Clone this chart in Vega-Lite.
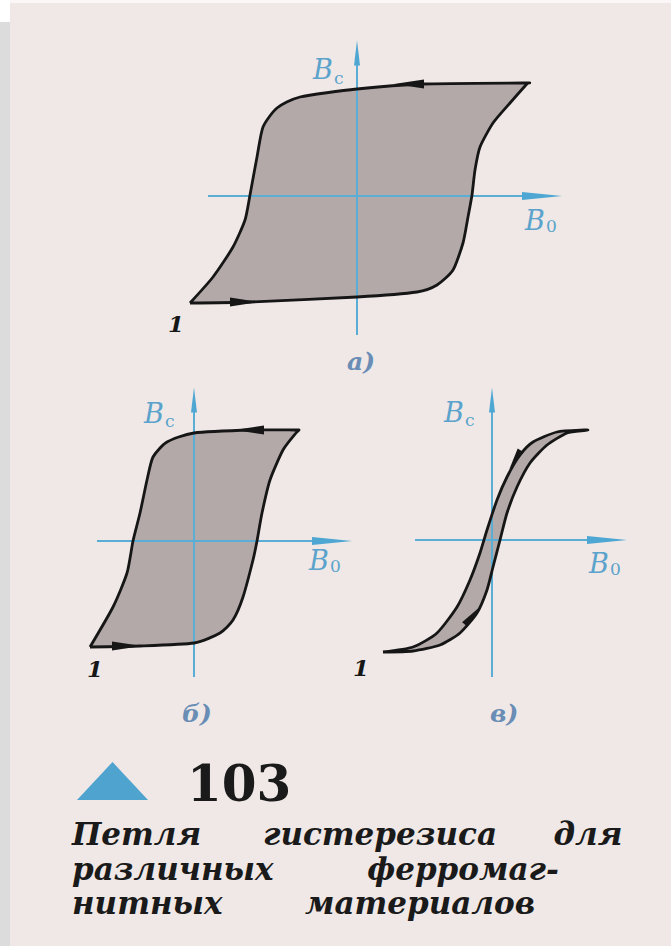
{
  "$schema": "https://vega.github.io/schema/vega-lite/v6.json",
  "width": 671,
  "height": 946,
  "padding": 0,
  "autosize": {"type": "fit", "contains": "padding"},
  "background": "#efe8e6",
  "config": {"view": {"stroke": null}},
  "datasets": {
    "loops": [
      {"panel": "a", "i": 0, "x": 190, "y": 303},
      {"panel": "a", "i": 1, "x": 250, "y": 302},
      {"panel": "a", "i": 2, "x": 357, "y": 297},
      {"panel": "a", "i": 3, "x": 417, "y": 292},
      {"panel": "a", "i": 4, "x": 437, "y": 285},
      {"panel": "a", "i": 5, "x": 453, "y": 270},
      {"panel": "a", "i": 6, "x": 463, "y": 243},
      {"panel": "a", "i": 7, "x": 468, "y": 217},
      {"panel": "a", "i": 8, "x": 472, "y": 195},
      {"panel": "a", "i": 9, "x": 475, "y": 170},
      {"panel": "a", "i": 10, "x": 480, "y": 147},
      {"panel": "a", "i": 11, "x": 493, "y": 123},
      {"panel": "a", "i": 12, "x": 510, "y": 103},
      {"panel": "a", "i": 13, "x": 525, "y": 86},
      {"panel": "a", "i": 14, "x": 528, "y": 83},
      {"panel": "a", "i": 15, "x": 523, "y": 83},
      {"panel": "a", "i": 16, "x": 423, "y": 84},
      {"panel": "a", "i": 17, "x": 357, "y": 89},
      {"panel": "a", "i": 18, "x": 300, "y": 97},
      {"panel": "a", "i": 19, "x": 277, "y": 108},
      {"panel": "a", "i": 20, "x": 263, "y": 127},
      {"panel": "a", "i": 21, "x": 257, "y": 157},
      {"panel": "a", "i": 22, "x": 250, "y": 195},
      {"panel": "a", "i": 23, "x": 245, "y": 220},
      {"panel": "a", "i": 24, "x": 233, "y": 247},
      {"panel": "a", "i": 25, "x": 213, "y": 277},
      {"panel": "a", "i": 26, "x": 190, "y": 303},
      {"panel": "b", "i": 0, "x": 90, "y": 647},
      {"panel": "b", "i": 1, "x": 140, "y": 646},
      {"panel": "b", "i": 2, "x": 194, "y": 643},
      {"panel": "b", "i": 3, "x": 220, "y": 633},
      {"panel": "b", "i": 4, "x": 233, "y": 620},
      {"panel": "b", "i": 5, "x": 243, "y": 597},
      {"panel": "b", "i": 6, "x": 253, "y": 560},
      {"panel": "b", "i": 7, "x": 257, "y": 541},
      {"panel": "b", "i": 8, "x": 262, "y": 513},
      {"panel": "b", "i": 9, "x": 270, "y": 480},
      {"panel": "b", "i": 10, "x": 283, "y": 450},
      {"panel": "b", "i": 11, "x": 296, "y": 433},
      {"panel": "b", "i": 12, "x": 299, "y": 430},
      {"panel": "b", "i": 13, "x": 295, "y": 430},
      {"panel": "b", "i": 14, "x": 253, "y": 430},
      {"panel": "b", "i": 15, "x": 194, "y": 433},
      {"panel": "b", "i": 16, "x": 167, "y": 442},
      {"panel": "b", "i": 17, "x": 153, "y": 457},
      {"panel": "b", "i": 18, "x": 147, "y": 480},
      {"panel": "b", "i": 19, "x": 140, "y": 513},
      {"panel": "b", "i": 20, "x": 133, "y": 541},
      {"panel": "b", "i": 21, "x": 127, "y": 573},
      {"panel": "b", "i": 22, "x": 113, "y": 607},
      {"panel": "b", "i": 23, "x": 90, "y": 647},
      {"panel": "c", "i": 0, "x": 383, "y": 652},
      {"panel": "c", "i": 1, "x": 413, "y": 651},
      {"panel": "c", "i": 2, "x": 440, "y": 645},
      {"panel": "c", "i": 3, "x": 460, "y": 633},
      {"panel": "c", "i": 4, "x": 477, "y": 613},
      {"panel": "c", "i": 5, "x": 487, "y": 590},
      {"panel": "c", "i": 6, "x": 493, "y": 567},
      {"panel": "c", "i": 7, "x": 500, "y": 540},
      {"panel": "c", "i": 8, "x": 507, "y": 513},
      {"panel": "c", "i": 9, "x": 517, "y": 487},
      {"panel": "c", "i": 10, "x": 530, "y": 463},
      {"panel": "c", "i": 11, "x": 547, "y": 445},
      {"panel": "c", "i": 12, "x": 567, "y": 433},
      {"panel": "c", "i": 13, "x": 584, "y": 430.5},
      {"panel": "c", "i": 14, "x": 588, "y": 430},
      {"panel": "c", "i": 15, "x": 584, "y": 430},
      {"panel": "c", "i": 16, "x": 557, "y": 432},
      {"panel": "c", "i": 17, "x": 533, "y": 442},
      {"panel": "c", "i": 18, "x": 520, "y": 455},
      {"panel": "c", "i": 19, "x": 507, "y": 477},
      {"panel": "c", "i": 20, "x": 497, "y": 500},
      {"panel": "c", "i": 21, "x": 487, "y": 530},
      {"panel": "c", "i": 22, "x": 480, "y": 553},
      {"panel": "c", "i": 23, "x": 470, "y": 580},
      {"panel": "c", "i": 24, "x": 457, "y": 607},
      {"panel": "c", "i": 25, "x": 437, "y": 633},
      {"panel": "c", "i": 26, "x": 413, "y": 647},
      {"panel": "c", "i": 27, "x": 383, "y": 652}
    ]
  },
  "encoding": {
    "x": {"type": "quantitative", "scale": {"domain": [0, 671], "nice": false, "zero": false}, "axis": null},
    "y": {"type": "quantitative", "scale": {"domain": [0, 946], "nice": false, "zero": false, "reverse": true}, "axis": null}
  },
  "layer": [
    {
      "data": {"values": [
        {"x": 0, "x2": 10, "y": 22, "y2": 946, "k": "strip"},
        {"x": 0, "x2": 10, "y": 0, "y2": 22, "k": "corner"},
        {"x": 10, "x2": 671, "y": 0, "y2": 3, "k": "top"}
      ]},
      "mark": {"type": "rect"},
      "encoding": {
        "x": {"field": "x", "type": "quantitative"},
        "x2": {"field": "x2"},
        "y": {"field": "y", "type": "quantitative"},
        "y2": {"field": "y2"},
        "color": {"field": "k", "type": "nominal", "scale": {"domain": ["strip", "corner", "top"], "range": ["#dcdcdc", "#ffffff", "#faf7f6"]}, "legend": null}
      }
    },
    {
      "data": {"name": "loops"},
      "mark": {"type": "line", "fill": "#b3a9a8", "strokeWidth": 0, "interpolate": "cardinal", "tension": 0.35},
      "encoding": {
        "x": {"field": "x", "type": "quantitative"},
        "y": {"field": "y", "type": "quantitative"},
        "detail": {"field": "panel"},
        "order": {"field": "i", "type": "quantitative"}
      }
    },
    {
      "data": {"values": [
        {"x": 357, "x2": 357, "y": 55, "y2": 335},
        {"x": 208, "x2": 540, "y": 196, "y2": 196},
        {"x": 194, "x2": 194, "y": 400, "y2": 677},
        {"x": 97, "x2": 330, "y": 541, "y2": 541},
        {"x": 492, "x2": 492, "y": 400, "y2": 677},
        {"x": 415, "x2": 605, "y": 540, "y2": 540}
      ]},
      "mark": {"type": "rule", "color": "#5aaed6", "strokeWidth": 2},
      "encoding": {
        "x": {"field": "x", "type": "quantitative"},
        "x2": {"field": "x2"},
        "y": {"field": "y", "type": "quantitative"},
        "y2": {"field": "y2"}
      }
    },
    {
      "data": {"values": [{"x": 357, "y": 53}, {"x": 194, "y": 400}, {"x": 492, "y": 400}]},
      "mark": {"type": "point", "shape": "M0,-1L0.24,1L-0.24,1Z", "size": 625, "filled": true, "color": "#4ea6d2", "opacity": 1},
      "encoding": {
        "x": {"field": "x", "type": "quantitative"},
        "y": {"field": "y", "type": "quantitative"}
      }
    },
    {
      "data": {"values": [{"x": 542, "y": 196}, {"x": 332, "y": 541}, {"x": 607, "y": 540}]},
      "mark": {"type": "point", "shape": "M1,0L-1,-0.2L-1,0.2Z", "size": 1600, "filled": true, "color": "#4ea6d2", "opacity": 1},
      "encoding": {
        "x": {"field": "x", "type": "quantitative"},
        "y": {"field": "y", "type": "quantitative"}
      }
    },
    {
      "data": {"name": "loops"},
      "mark": {"type": "line", "color": "#161616", "strokeWidth": 2.8, "interpolate": "cardinal", "tension": 0.35},
      "encoding": {
        "x": {"field": "x", "type": "quantitative"},
        "y": {"field": "y", "type": "quantitative"},
        "detail": {"field": "panel"},
        "order": {"field": "i", "type": "quantitative"}
      }
    },
    {
      "data": {"values": [{"x": 409, "y": 84}, {"x": 249, "y": 430}]},
      "mark": {"type": "point", "shape": "M-1,0L1,-0.3L1,0.3Z", "size": 900, "filled": true, "color": "#161616", "opacity": 1},
      "encoding": {
        "x": {"field": "x", "type": "quantitative"},
        "y": {"field": "y", "type": "quantitative"}
      }
    },
    {
      "data": {"values": [{"x": 245, "y": 302}, {"x": 127, "y": 646}]},
      "mark": {"type": "point", "shape": "M1,0L-1,-0.3L-1,0.3Z", "size": 900, "filled": true, "color": "#161616", "opacity": 1},
      "encoding": {
        "x": {"field": "x", "type": "quantitative"},
        "y": {"field": "y", "type": "quantitative"}
      }
    },
    {
      "data": {"values": [{"x": 515, "y": 460}]},
      "mark": {"type": "point", "shape": "M0,-1L0.32,1L-0.32,1Z", "size": 500, "angle": 211, "filled": true, "color": "#161616", "opacity": 1},
      "encoding": {
        "x": {"field": "x", "type": "quantitative"},
        "y": {"field": "y", "type": "quantitative"}
      }
    },
    {
      "data": {"values": [{"x": 472, "y": 616}]},
      "mark": {"type": "point", "shape": "M0,-1L0.32,1L-0.32,1Z", "size": 500, "angle": 40, "filled": true, "color": "#161616", "opacity": 1},
      "encoding": {
        "x": {"field": "x", "type": "quantitative"},
        "y": {"field": "y", "type": "quantitative"}
      }
    },
    {
      "data": {"values": [
        {"x": 313, "y": 79, "t": "B"},
        {"x": 525, "y": 230, "t": "B"},
        {"x": 144, "y": 423, "t": "B"},
        {"x": 309, "y": 570, "t": "B"},
        {"x": 444, "y": 422, "t": "B"},
        {"x": 589, "y": 573, "t": "B"}
      ]},
      "mark": {"type": "text", "font": "DejaVu Serif", "fontStyle": "italic", "fontSize": 27, "align": "left", "baseline": "alphabetic", "color": "#5ba3cc"},
      "encoding": {
        "x": {"field": "x", "type": "quantitative"},
        "y": {"field": "y", "type": "quantitative"},
        "text": {"field": "t"}
      }
    },
    {
      "data": {"values": [
        {"x": 334, "y": 84, "t": "c"},
        {"x": 546, "y": 232, "t": "0"},
        {"x": 165, "y": 427, "t": "c"},
        {"x": 330, "y": 572, "t": "0"},
        {"x": 465, "y": 426, "t": "c"},
        {"x": 610, "y": 575, "t": "0"}
      ]},
      "mark": {"type": "text", "font": "DejaVu Serif", "fontSize": 17, "align": "left", "baseline": "alphabetic", "color": "#5ba3cc"},
      "encoding": {
        "x": {"field": "x", "type": "quantitative"},
        "y": {"field": "y", "type": "quantitative"},
        "text": {"field": "t"}
      }
    },
    {
      "data": {"values": [
        {"x": 168, "y": 332, "t": "1"},
        {"x": 87, "y": 677, "t": "1"},
        {"x": 353, "y": 676, "t": "1"}
      ]},
      "mark": {"type": "text", "font": "DejaVu Serif", "fontStyle": "italic", "fontWeight": "bold", "fontSize": 23, "align": "left", "baseline": "alphabetic", "color": "#161616"},
      "encoding": {
        "x": {"field": "x", "type": "quantitative"},
        "y": {"field": "y", "type": "quantitative"},
        "text": {"field": "t"}
      }
    },
    {
      "data": {"values": [
        {"x": 347, "y": 370, "t": "а)"},
        {"x": 182, "y": 722, "t": "б)"},
        {"x": 490, "y": 722, "t": "в)"}
      ]},
      "mark": {"type": "text", "font": "DejaVu Serif", "fontStyle": "italic", "fontWeight": "bold", "fontSize": 25, "align": "left", "baseline": "alphabetic", "color": "#6a8db5"},
      "encoding": {
        "x": {"field": "x", "type": "quantitative"},
        "y": {"field": "y", "type": "quantitative"},
        "text": {"field": "t"}
      }
    },
    {
      "data": {"values": [{"x": 112.5, "y": 781}]},
      "mark": {"type": "point", "shape": "M0,-0.535L1,0.535L-1,0.535Z", "size": 5041, "filled": true, "color": "#4fa3cf", "opacity": 1},
      "encoding": {
        "x": {"field": "x", "type": "quantitative"},
        "y": {"field": "y", "type": "quantitative"}
      }
    },
    {
      "data": {"values": [{"x": 187, "y": 801, "t": "103"}]},
      "mark": {"type": "text", "font": "DejaVu Serif", "fontWeight": "bold", "fontSize": 50, "align": "left", "baseline": "alphabetic", "color": "#1a1a1a"},
      "encoding": {
        "x": {"field": "x", "type": "quantitative"},
        "y": {"field": "y", "type": "quantitative"},
        "text": {"field": "t"}
      }
    },
    {
      "data": {"values": [
        {"x": 72, "y": 845, "t": "Петля"},
        {"x": 72, "y": 880, "t": "различных"},
        {"x": 72, "y": 914, "t": "нитных"}
      ]},
      "mark": {"type": "text", "font": "DejaVu Serif", "fontStyle": "italic", "fontWeight": "bold", "fontSize": 31, "align": "left", "baseline": "alphabetic", "color": "#1a1a1a"},
      "encoding": {
        "x": {"field": "x", "type": "quantitative"},
        "y": {"field": "y", "type": "quantitative"},
        "text": {"field": "t"}
      }
    },
    {
      "data": {"values": [
        {"x": 380, "y": 845, "t": "гистерезиса"},
        {"x": 588, "y": 845, "t": "для"},
        {"x": 463, "y": 880, "t": "ферромаг-"},
        {"x": 420, "y": 914, "t": "материалов"}
      ]},
      "mark": {"type": "text", "font": "DejaVu Serif", "fontStyle": "italic", "fontWeight": "bold", "fontSize": 31, "align": "center", "baseline": "alphabetic", "color": "#1a1a1a"},
      "encoding": {
        "x": {"field": "x", "type": "quantitative"},
        "y": {"field": "y", "type": "quantitative"},
        "text": {"field": "t"}
      }
    }
  ]
}
